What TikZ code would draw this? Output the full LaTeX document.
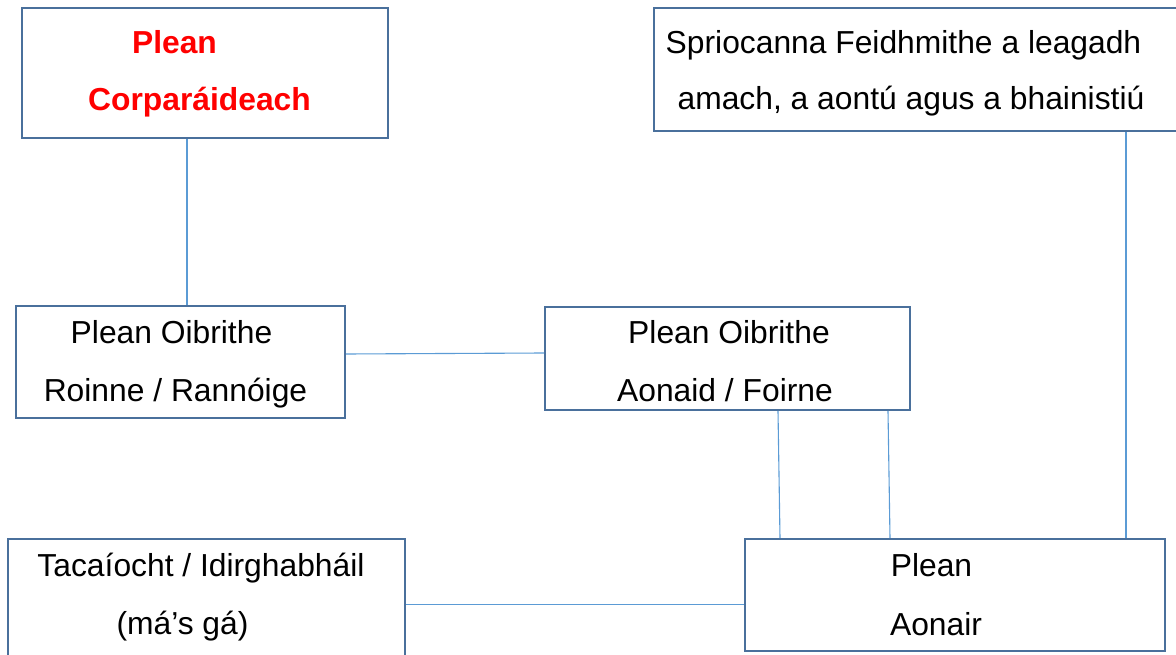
\documentclass[tikz,border=0pt]{standalone}
\usepackage{fontspec}
\setmainfont{Liberation Sans}
\definecolor{boxblue}{RGB}{74,112,156}
\definecolor{linkblue}{RGB}{91,155,213}
\begin{document}
\begin{tikzpicture}[x=1pt,y=-1pt,
  box/.style={draw=boxblue,line width=2pt,rectangle,inner sep=0pt,fill=none},
  txt/.style={anchor=base,inner sep=0pt,font=\fontsize{31.8}{38}\selectfont},
  redtxt/.style={txt,text=red,font=\fontsize{31.8}{38}\selectfont\bfseries},
  link/.style={draw=linkblue,line width=1.1pt}]
\useasboundingbox (0,0) rectangle (1176,655);
% boxes
\node[box,minimum width=366pt,minimum height=130pt] (b1) at (205,73) {};
\node[box,minimum width=528pt,minimum height=123pt] (b2) at (918,69.5) {};
\node[box,minimum width=329pt,minimum height=112pt] (b3) at (180.5,362) {};
\node[box,minimum width=365pt,minimum height=103pt] (b4) at (727.5,358.5) {};
\node[box,minimum width=397pt,minimum height=131pt] (b5) at (206.5,604.5) {};
\node[box,minimum width=420pt,minimum height=112pt] (b6) at (955,595) {};
% texts
\node[redtxt] (t1a) at (174.5,53.5) {Plean};
\node[redtxt] (t1b) at (199.5,110.5) {Corparáideach};
\node[txt] (t2a) at (903.5,53.5) {Spriocanna Feidhmithe a leagadh};
\node[txt] (t2b) at (911,110) {amach, a aontú agus a bhainistiú};
\node[txt] (t3a) at (171.5,343.5) {Plean Oibrithe};
\node[txt] (t3b) at (175.5,401.5) {Roinne / Rannóige};
\node[txt] (t4a) at (729,343.5) {Plean Oibrithe};
\node[txt] (t4b) at (725,401.5) {Aonaid / Foirne};
\node[txt] (t5a) at (201,576.5) {Tacaíocht / Idirghabháil};
\node[txt] (t5b) at (182.5,634) {(má’s gá)};
\node[txt] (t6a) at (931.5,576.5) {Plean};
\node[txt] (t6b) at (936,635.5) {Aonair};
% connectors
\draw[link] ([xshift=-18pt]b1.south) -- ([xshift=-18pt]b1.south |- b3.north);
\draw[link] ([yshift=8pt]b3.east) -- ([yshift=5.5pt]b4.west);
\draw[link] ([xshift=50.5pt]b4.south) -- ([xshift=-175pt]b6.north);
\draw[link] ([xshift=160.5pt]b4.south) -- ([xshift=-65pt]b6.north);
\draw[link] ([xshift=171pt]b6.north) -- ([xshift=171pt]b6.north |- b2.south);
\draw[link] (b5.east) -- (b5.east -| b6.west);
\end{tikzpicture}
\end{document}
